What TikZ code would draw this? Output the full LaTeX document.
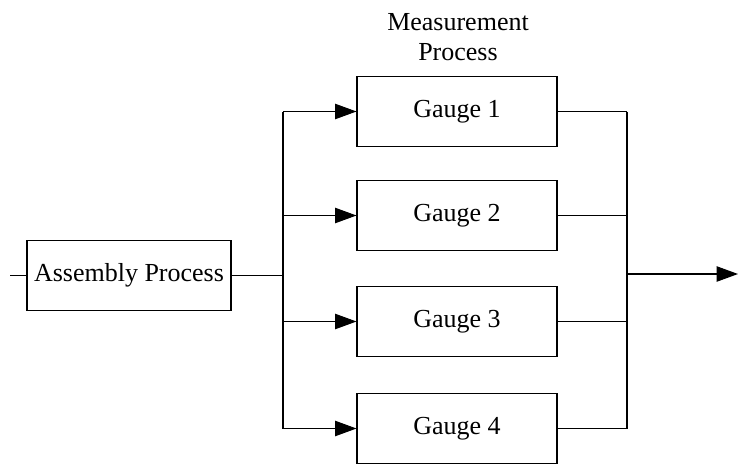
\documentclass[tikz,border=0pt]{standalone}
\usepackage{fontspec}
\setmainfont{Liberation Serif}
\usetikzlibrary{arrows.meta,positioning}

\tikzset{
  procbox/.style={draw, line width=0.8pt, minimum height=52pt, inner sep=2pt},
  flow/.style={line width=0.8pt},
  arr/.style={flow, -{Triangle[length=16pt,width=11.5pt]}}
}

\begin{document}
\begin{tikzpicture}[x=0.75pt, y=-0.75pt, font=\fontsize{19.5}{22.5}\selectfont]
  \useasboundingbox (0,0) rectangle (738,464);
  \node[procbox, minimum width=153pt] (asm) at (129,275.5) {Assembly Process};
  % четыре датчика
  \foreach \n/\y in {1/111.5, 2/215.5, 3/321.5, 4/428.5}
    \node[procbox, minimum width=150pt] (g\n) at (457,\y) {Gauge \n};
  \node[align=center, inner sep=0pt] (mlabel) at (458,37) {Measurement\\Process};
  \coordinate (in) at (10,275.5);
  \coordinate (split) at (283,275.5);
  \coordinate (join) at (627,274);
  \coordinate (out) at (738,274);
  \draw[flow] (in) -- (asm.west);
  \draw[flow] (asm.east) -- (split);
  \draw[flow] (split |- g1.west) -- (split |- g4.west); % ствол
  \draw[flow] (join |- g1.east) -- (join |- g4.east);
  \foreach \n in {1,...,4} {
    \draw[arr] (split |- g\n.west) -- (g\n.west);
    \draw[flow] (g\n.east) -- (join |- g\n.east);
  }
  \draw[arr] (join) -- (out);
\end{tikzpicture}
\end{document}
